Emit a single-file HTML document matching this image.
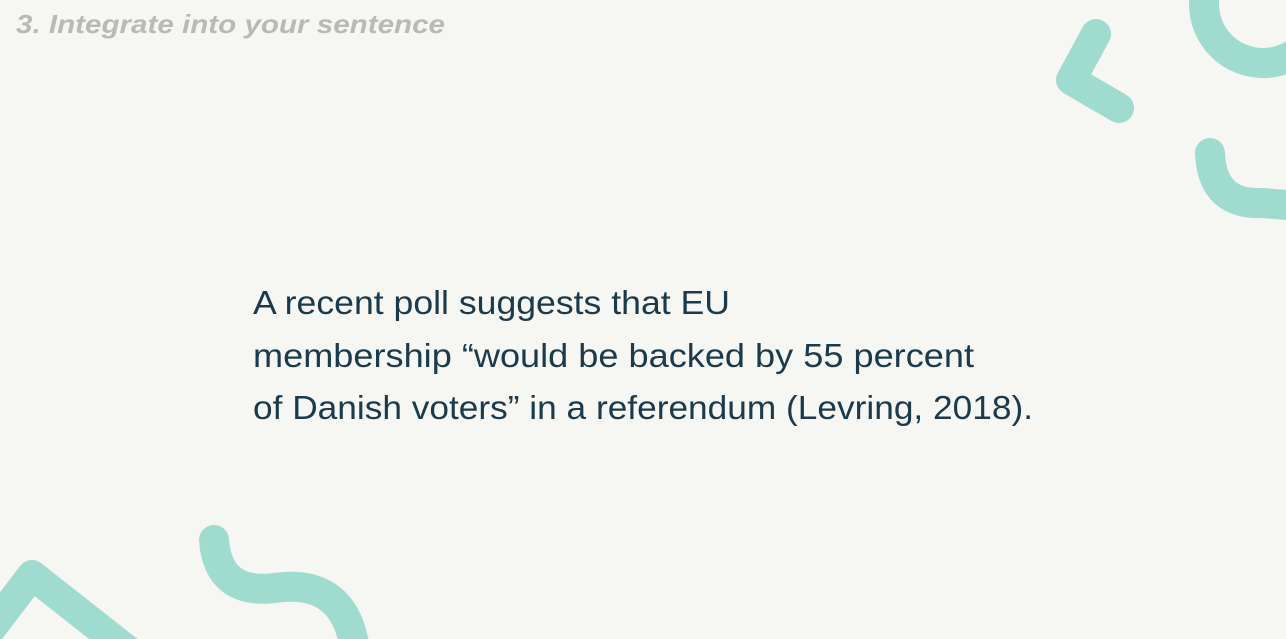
<!DOCTYPE html>
<html><head><meta charset="utf-8"><style>
html,body{margin:0;padding:0;background:#f6f6f3;width:1286px;height:639px;overflow:hidden}
svg{display:block}
</style></head><body>
<svg width="1286" height="639" viewBox="0 0 1286 639">
<rect width="1286" height="639" fill="#f6f6f3"/>
<g fill="none" stroke="#9fdbcf" stroke-width="30" stroke-linecap="round" stroke-linejoin="round">
<polyline points="1096,34 1071,80 1119,108"/>
<circle cx="1263" cy="4" r="59"/>
<path d="M1210,153 Q1212,205 1262,203 L1300,206"/>
<polyline points="-10,630 32,575 140,660"/>
<path d="M214,540 Q218,595 275,588 Q345,578 355,650"/>
</g>
<text x="16" y="33" font-family="Liberation Sans, sans-serif" font-size="26" font-style="italic" font-weight="bold" fill="#b9b9b7" textLength="429" lengthAdjust="spacingAndGlyphs">3. Integrate into your sentence</text>
<g font-family="Liberation Sans, sans-serif" font-size="33" fill="#1b3a4b">
<text x="253" y="314" textLength="477" lengthAdjust="spacingAndGlyphs">A recent poll suggests that EU</text>
<text x="253" y="367" textLength="721" lengthAdjust="spacingAndGlyphs">membership “would be backed by 55 percent</text>
<text x="253" y="419" textLength="780" lengthAdjust="spacingAndGlyphs">of Danish voters” in a referendum (Levring, 2018).</text>
</g>
</svg>
</body></html>
